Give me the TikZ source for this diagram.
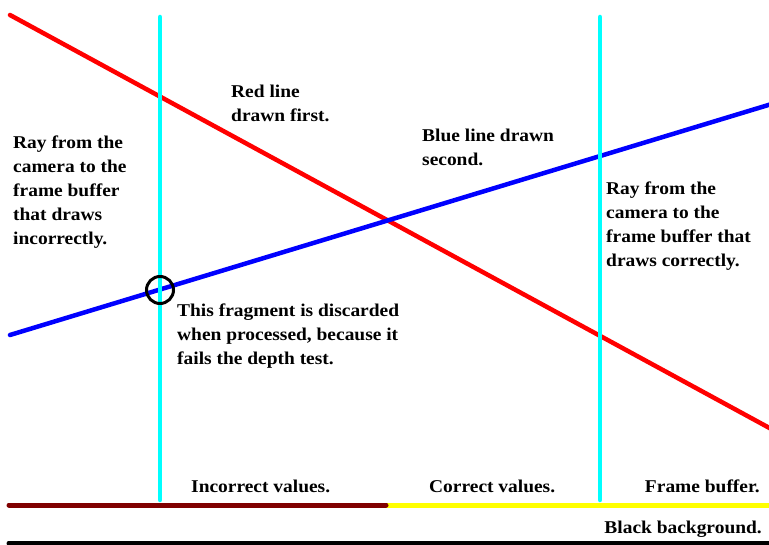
\documentclass[tikz,border=0pt]{standalone}
\usepackage{fontspec}
\setmainfont[FakeStretch=1.08]{Liberation Serif}
\definecolor{pcyan}{RGB}{0,255,255}
\definecolor{pyellow}{RGB}{255,255,0}
\definecolor{pred}{RGB}{255,0,0}
\definecolor{pblue}{RGB}{0,0,255}
\definecolor{pmaroon}{RGB}{128,0,0}
\begin{document}
\begin{tikzpicture}[x=1pt,y=-1pt,
  lbl/.style={font=\bfseries\fontsize{18}{24}\selectfont,inner sep=0pt,align=left,anchor=base west},
  lblr/.style={font=\bfseries\fontsize{18}{24}\selectfont,inner sep=0pt,anchor=base east},
  ln/.style={line width=4.5pt,line cap=round}]
\useasboundingbox (0,0) rectangle (769,545);
% coordinates
\coordinate (r1) at (10,15);
\coordinate (r2) at (775,431);
\coordinate (b1) at (10,335);
\coordinate (b2) at (775,103);
\coordinate (c1t) at (160,17);
\coordinate (c1b) at (160,500);
\coordinate (c2t) at (600,17);
\coordinate (c2b) at (600,500);
\coordinate (fbl) at (9,505);
\coordinate (fbm) at (386,505);
\coordinate (fbr) at (775,505);
\coordinate (bgl) at (9,543);
\coordinate (bgr) at (775,543);
\draw[ln,pred] (r1) -- (r2);
\draw[ln,pblue] (b1) -- (b2);
\draw[ln,pcyan] (c1t) -- (c1b);
\draw[ln,pcyan] (c2t) -- (c2b);
\draw[ln,line width=5pt,pyellow] (fbm) -- (fbr);
\draw[ln,line width=5pt,pmaroon] (fbl) -- (fbm);
\draw[line width=5pt,line cap=round] (bgl) -- (bgr);
\node[draw=black,line width=3pt,circle,minimum size=27pt,inner sep=0pt] (frag) at (160,290) {};
% labels (anchored at the baseline of their last line)
\node[lbl] (t1) at (13,245) {Ray from the\\camera to the\\frame buffer\\that draws\\incorrectly.};
\node[lbl] (t2) at (231,122) {Red line\\drawn first.};
\node[lbl] (t3) at (422,166) {Blue line drawn\\second.};
\node[lbl] (t4) at (606,267) {Ray from the\\camera to the\\frame buffer that\\draws correctly.};
\node[lbl] (t5) at (177,365) {This fragment is discarded\\when processed, because it\\fails the depth test.};
\node[lbl] (t6) at (191,492) {Incorrect values.};
\node[lbl] (t7) at (429,492) {Correct values.};
\node[lblr] (t8) at (760,492) {Frame buffer.};
\node[lblr] (t9) at (762,533) {Black background.};
\end{tikzpicture}
\end{document}
